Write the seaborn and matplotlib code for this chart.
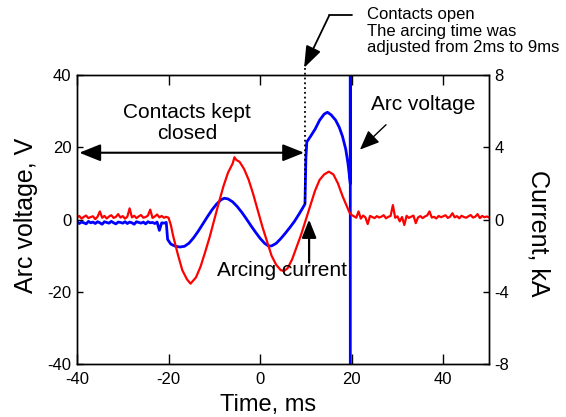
import numpy as np
import pandas as pd
import matplotlib
matplotlib.use("Agg")
import matplotlib.pyplot as plt
import seaborn as sns

# arc voltage (V)
t_volt_flat = [-40.0, -39.5, -39.0, -38.5, -38.0, -37.5, -37.0, -36.5, -36.0, -35.5,
               -35.0, -34.5, -34.0, -33.5, -33.0, -32.5, -32.0, -31.5, -31.0, -30.5,
               -30.0, -29.5, -29.0, -28.5, -28.0, -27.5, -27.0, -26.5, -26.0, -25.5,
               -25.0, -24.5, -24.0, -23.5, -23.0, -22.5, -22.0, -21.5, -21.0, -20.5]
volt_flat = [-0.6, -1.1, -0.7, -0.9, -1.2, -0.5, -0.9, -0.7, -1.1, -0.6,
             -0.9, -1.3, -0.6, -0.8, -1.0, -0.5, -0.9, -1.2, -0.7, -0.8,
             -1.0, -0.6, -1.1, -0.7, -0.9, -1.3, -0.6, -0.8, -1.0, -0.7,
             -1.2, -0.6, -0.9, -0.8, -1.1, -0.7, -3.0, -0.9, -1.0, -0.8]
t_volt_arc = [-20.2, -19.5, -18.5, -17.5, -16.5, -15.5, -14.5, -13.5, -12.5, -11.5,
              -10.5, -9.5, -8.5, -7.8, -7.0, -6.0, -5.0, -4.0, -3.0, -2.0,
              -1.0, 0.0, 1.0, 1.8, 2.5, 3.5, 4.5, 5.5, 6.5, 7.5,
              8.5, 9.3, 9.8, 10.0, 10.2, 11.0, 12.0, 13.0, 14.0, 14.7,
              15.5, 16.5, 17.3, 18.0, 18.7, 19.2, 19.7, 19.7, 19.7]
volt_arc = [-5.5, -6.8, -7.4, -7.6, -7.4, -6.5, -5.0, -3.2, -1.2, 0.8,
            2.7, 4.3, 5.5, 5.9, 5.7, 4.9, 3.6, 2.0, 0.2, -1.7,
            -3.5, -5.2, -6.6, -7.3, -7.3, -6.6, -5.3, -3.8, -2.2, -0.5,
            1.5, 3.2, 4.3, 17.0, 21.5, 23.0, 25.0, 27.5, 29.2, 29.7,
            29.0, 27.5, 25.5, 23.0, 19.5, 15.5, 10.0, 60.0, -60.0]

# arcing current (kA)
t_curr_pre = t_volt_flat + [-20.0]
curr_pre = [0.12, 0.20, 0.05, 0.15, 0.22, 0.08, 0.14, 0.18, 0.02, 0.16,
            0.45, 0.10, 0.20, 0.06, 0.17, 0.24, 0.09, 0.15, 0.30, 0.11,
            0.19, 0.05, 0.16, 0.62, 0.12, 0.21, 0.08, 0.18, 0.25, 0.10,
            0.14, 0.22, 0.55, 0.09, 0.17, 0.28, 0.12, 0.20, 0.10, 0.15, 0.10]
t_curr_arc = [-19.5, -19.0, -18.0, -17.0, -16.0, -15.2, -14.0, -13.0, -12.0, -11.0,
              -10.0, -9.0, -8.0, -7.0, -6.0, -5.6, -5.2, -4.5, -3.5, -2.5,
              -1.5, -0.5, 0.5, 1.5, 2.5, 3.5, 4.5, 5.2, 6.0, 7.0,
              8.0, 9.0, 10.0, 11.0, 12.0, 13.0, 14.0, 15.0, 16.0, 17.0,
              18.0, 19.0, 19.5, 20.0]
curr_arc = [-0.3, -0.9, -1.9, -2.8, -3.3, -3.55, -3.2, -2.6, -1.8, -0.95,
            0.0, 0.95, 1.85, 2.6, 3.1, 3.45, 3.3, 3.2, 2.8, 2.2,
            1.4, 0.5, -0.4, -1.2, -2.0, -2.5, -2.8, -2.85, -2.7, -2.2,
            -1.5, -0.8, 0.0, 0.8, 1.6, 2.2, 2.5, 2.65, 2.5, 2.0,
            1.3, 0.7, 0.4, 0.25]
t_curr_post = [20.5, 21.0, 21.5, 22.0, 22.5, 23.0, 23.5, 24.0, 24.5, 25.0,
               25.5, 26.0, 26.5, 27.0, 27.5, 28.0, 28.5, 29.0, 29.5, 30.0,
               30.5, 31.0, 31.5, 32.0, 32.5, 33.0, 33.5, 34.0, 34.5, 35.0,
               35.5, 36.0, 36.5, 37.0, 37.5, 38.0, 38.5, 39.0, 39.5, 40.0,
               40.5, 41.0, 41.5, 42.0, 42.5, 43.0, 43.5, 44.0, 44.5, 45.0,
               45.5, 46.0, 46.5, 47.0, 47.5, 48.0, 48.5, 49.0, 49.5, 50.0]
curr_post = [0.18, 0.10, 0.45, 0.05, 0.22, 0.12, -0.25, 0.20, 0.14, 0.08,
             0.19, 0.11, 0.16, 0.24, 0.07, 0.15, 0.20, 0.80, 0.10, 0.18,
             -0.10, 0.14, -0.30, 0.21, 0.09, 0.16, 0.22, -0.20, 0.12, 0.19,
             0.08, 0.17, 0.23, 0.45, 0.11, 0.15, 0.06, 0.20, 0.13, 0.18,
             0.24, 0.09, 0.16, 0.35, 0.12, 0.19, 0.07, 0.21, 0.14, 0.10,
             0.18, 0.25, 0.11, 0.16, 0.30, 0.08, 0.20, 0.13, 0.17, 0.12]

x_ticks = [-40, -20, 0, 20, 40]
v_ticks = [-40, -20, 0, 20, 40]
i_ticks = [-8, -4, 0, 4, 8]

volt_df = pd.DataFrame({"time": t_volt_flat + t_volt_arc, "voltage": volt_flat + volt_arc})
curr_df = pd.DataFrame({"time": t_curr_pre + t_curr_arc + t_curr_post,
                        "current": curr_pre + curr_arc + curr_post})

sns.set_style("ticks")
plt.rcParams["font.family"] = ["Liberation Sans", "DejaVu Sans"]
plt.rcParams["axes.unicode_minus"] = False
plt.rcParams["text.color"] = "black"

fig = plt.figure(figsize=(5.66, 4.17), dpi=100)
ax = fig.add_axes([0.136, 0.127, 0.728, 0.693])
ax2 = ax.twinx()

sns.lineplot(data=volt_df, x="time", y="voltage", ax=ax, color="#0000ff",
             lw=2.0, sort=False, estimator=None)
sns.lineplot(data=curr_df, x="time", y="current", ax=ax2, color="#ff0000",
             lw=1.6, sort=False, estimator=None)

ax.set_xlim(-40, 50)
ax.set_ylim(-40, 40)
ax2.set_ylim(-8, 8)
ax.set_xticks(x_ticks)
ax.set_yticks(v_ticks)
ax2.set_yticks(i_ticks)
ax.set_xlabel("")
ax.set_ylabel("")
ax2.set_ylabel("")

for a in (ax, ax2):
    for s in a.spines.values():
        s.set_color("black")
        s.set_linewidth(1.0)
ax.tick_params(axis="x", direction="in", top=True, length=7, width=1,
               labelsize=12, pad=6, colors="black")
ax.tick_params(axis="y", direction="in", length=4.5, width=1,
               labelsize=12, pad=4, colors="black")
ax2.tick_params(axis="y", direction="in", length=4.5, width=1,
                labelsize=12, pad=4, colors="black")

# axis titles
fig.text(268 / 566, 0.5 / 417, "Time, ms", fontsize=17, ha="center", va="bottom")
fig.text(26 / 566, 1 - 215 / 417, "Arc voltage, V", fontsize=18, rotation=90,
         ha="center", va="center")
fig.text(538 / 566, 1 - 233 / 417, "Current, kA", fontsize=18, rotation=270,
         ha="center", va="center")

# annotations (in kA units of the right axis so they sit above both traces)
ax2.annotate("", xy=(-39.5, 3.7), xytext=(9.6, 3.7),
             arrowprops=dict(arrowstyle="<|-|>,head_length=0.5,head_width=0.2",
                             mutation_scale=26, lw=1.5, color="black",
                             shrinkA=0, shrinkB=0))
ax2.text(-16.0, 6.45, "Contacts kept\nclosed", fontsize=15, ha="center", va="top",
         linespacing=1.12)

ax2.plot([9.7, 9.7], [8.4, 0.82], color="black", ls=":", lw=1.3, clip_on=False)
ax2.plot([20.1, 15.1], [11.3, 11.3], color="black", lw=1.3, clip_on=False)
ax2.annotate("", xy=(9.6, 8.4), xytext=(15.1, 11.3), annotation_clip=False,
             arrowprops=dict(arrowstyle="-|>,head_length=0.6,head_width=0.22",
                             mutation_scale=22, lw=1.3, color="black",
                             shrinkA=0, shrinkB=0))
ax2.text(23.4, 11.75, "Contacts open\nThe arcing time was\nadjusted from 2ms to 9ms",
         fontsize=12, ha="left", va="top", linespacing=1.12)

ax2.text(24.2, 6.08, "Arc voltage", fontsize=15, ha="left", va="baseline")
ax2.annotate("", xy=(21.8, 3.87), xytext=(27.5, 5.25),
             arrowprops=dict(arrowstyle="-|>,head_length=0.6,head_width=0.25",
                             mutation_scale=20, lw=1.0, color="black",
                             shrinkA=0, shrinkB=0))

ax2.text(-9.4, -3.15, "Arcing current", fontsize=15, ha="left", va="baseline")
ax2.annotate("", xy=(10.7, 0.0), xytext=(10.7, -2.38),
             arrowprops=dict(arrowstyle="-|>,head_length=0.55,head_width=0.22",
                             mutation_scale=20, lw=1.6, color="black",
                             shrinkA=0, shrinkB=0))

fig.savefig("out.png", dpi=100)
